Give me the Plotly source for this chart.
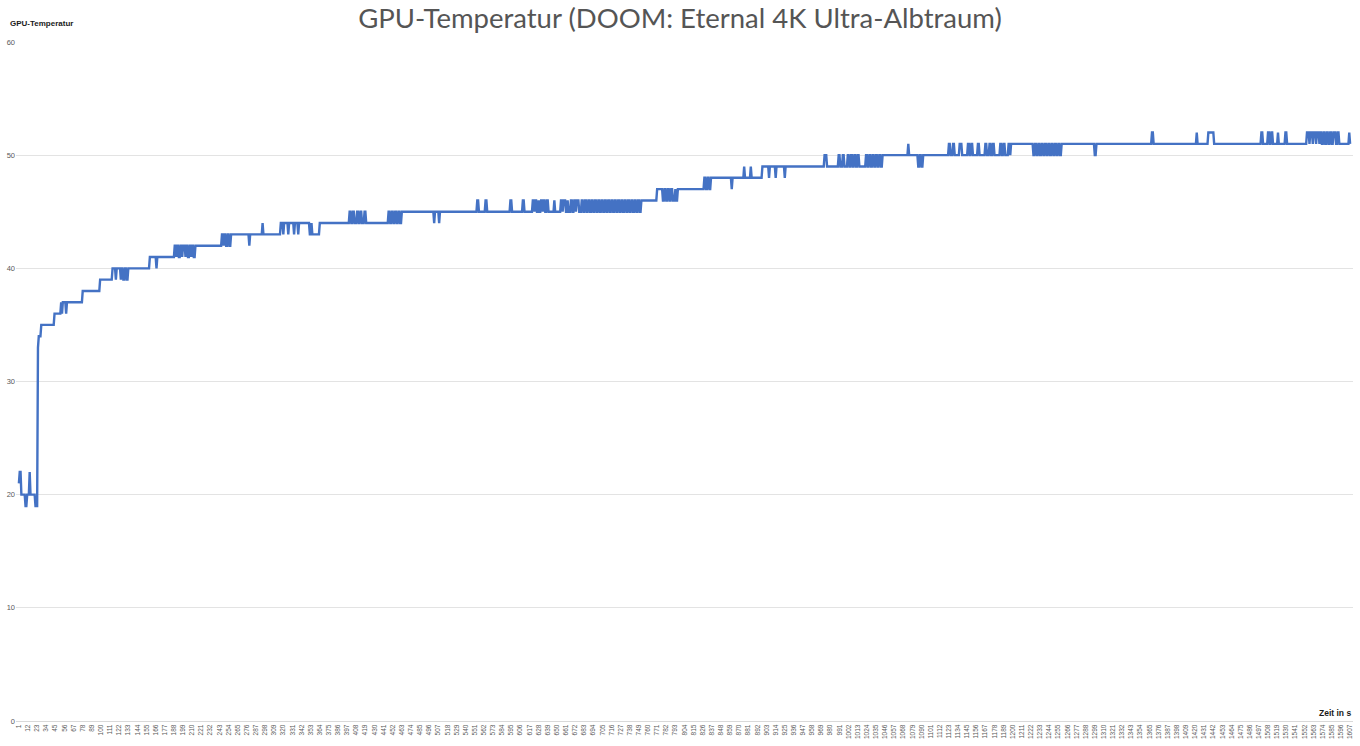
import plotly.graph_objects as go

# Temperature steps: (second at which a new value starts, °C)
phase_warmup = [(1, 21), (2, 22), (4, 20), (9, 19), (11, 20), (14, 22), (15, 20), (21, 19),
                (24, 33), (25, 34), (28, 35), (44, 36), (52, 37), (53, 36), (54, 37),
                (58, 36), (59, 37), (78, 38), (99, 39)]
phase_40_42 = [(114, 40), (118, 39), (119, 40), (124, 39), (125, 40), (127, 39), (129, 40),
               (131, 39), (133, 40), (159, 41), (167, 40), (168, 41),
               (189, 42), (191, 41), (192, 42), (194, 41), (196, 42), (198, 41), (199, 42),
               (202, 41), (203, 42), (205, 41), (207, 42), (209, 41), (210, 42), (212, 41),
               (214, 42)]
phase_43_44 = [(246, 43), (248, 42), (249, 43), (251, 42), (253, 43), (255, 42), (257, 43),
               (279, 42), (280, 43), (295, 44), (296, 43),
               (317, 44), (320, 43), (321, 44), (326, 43), (327, 44), (333, 43), (334, 44),
               (338, 43), (339, 44), (352, 43), (354, 44), (355, 43), (364, 44)]
phase_45_46 = [(400, 45), (402, 44), (404, 45), (406, 44), (409, 45), (411, 44), (413, 45),
               (415, 44), (418, 45), (420, 44),
               (447, 45), (449, 44), (451, 45), (453, 44), (455, 45), (457, 44), (459, 45),
               (461, 44), (463, 45), (502, 44), (503, 45), (508, 44), (509, 45),
               (554, 46), (556, 45), (564, 46), (566, 45), (594, 46), (596, 45), (609, 46),
               (611, 45), (621, 46), (623, 45), (624, 46), (626, 45), (628, 46), (629, 45),
               (631, 46), (633, 45), (634, 46), (636, 45), (638, 46), (640, 45),
               (647, 46), (648, 45),
               (655, 46), (657, 45), (658, 46), (661, 45), (663, 46), (664, 45), (667, 46),
               (669, 45), (671, 46), (673, 45), (674, 46), (677, 45), (680, 46), (682, 45),
               (684, 46), (686, 45), (688, 46), (690, 45), (692, 46), (694, 45), (696, 46),
               (698, 45), (700, 46), (702, 45), (704, 46), (706, 45), (708, 46), (710, 45),
               (712, 46), (714, 45), (716, 46), (718, 45), (720, 46), (722, 45), (724, 46),
               (726, 45), (728, 46), (730, 45), (732, 46), (734, 45), (736, 46), (738, 45),
               (740, 46), (742, 45), (744, 46), (746, 45), (748, 46), (750, 45), (752, 46)]
phase_47_49 = [(771, 47), (778, 46), (780, 47), (782, 46), (784, 47), (786, 46), (788, 47),
               (790, 46), (793, 47), (794, 46), (796, 47),
               (828, 48), (830, 47), (832, 48), (834, 47), (836, 48), (861, 47), (862, 48),
               (876, 49), (877, 48), (884, 49), (885, 48),
               (898, 49), (906, 48), (907, 49), (914, 48), (915, 49), (925, 48), (926, 49)]
phase_50 = [(973, 50), (976, 49), (990, 50), (992, 49), (995, 50), (997, 49),
            (1001, 50), (1003, 49), (1005, 50), (1007, 49), (1009, 50), (1011, 49),
            (1013, 50), (1015, 49), (1023, 50), (1025, 49), (1027, 50), (1029, 49),
            (1031, 50), (1033, 49), (1035, 50), (1037, 49), (1039, 50), (1041, 49),
            (1043, 50), (1074, 51), (1075, 50), (1086, 49), (1088, 50), (1090, 49),
            (1092, 50)]
phase_51_52 = [(1123, 51), (1125, 50), (1128, 51), (1130, 50), (1136, 51), (1139, 50),
               (1146, 51), (1148, 50), (1150, 51), (1152, 50), (1158, 51), (1160, 50),
               (1167, 51), (1169, 50), (1172, 51), (1174, 50), (1176, 51), (1178, 50),
               (1185, 51), (1187, 50), (1189, 51), (1191, 50), (1195, 51), (1197, 50),
               (1198, 51),
               (1225, 50), (1227, 51), (1229, 50), (1231, 51), (1233, 50), (1235, 51),
               (1237, 50), (1239, 51), (1241, 50), (1243, 51), (1245, 50), (1247, 51),
               (1249, 50), (1251, 51), (1253, 50), (1255, 51), (1257, 50), (1259, 51),
               (1299, 50), (1301, 51),
               (1368, 52), (1370, 51), (1422, 52), (1423, 51), (1436, 52), (1443, 51),
               (1500, 52), (1502, 51), (1508, 52), (1510, 51), (1512, 52), (1514, 51),
               (1520, 52), (1521, 51), (1529, 52), (1531, 51),
               (1555, 52), (1558, 51), (1559, 52), (1562, 51), (1563, 52), (1566, 51),
               (1567, 52), (1570, 51), (1571, 52), (1573, 51), (1575, 52), (1577, 51),
               (1579, 52), (1581, 51), (1583, 52), (1585, 51), (1587, 52), (1590, 51),
               (1592, 52), (1594, 51), (1606, 52), (1607, 51)]

n_seconds = 1607
tick_seconds = list(range(1, n_seconds + 1, 11))
y_ticks = [0, 10, 20, 30, 40, 50, 60]

steps = phase_warmup + phase_40_42 + phase_43_44 + phase_45_46 + phase_47_49 + phase_50 + phase_51_52
seconds = list(range(1, n_seconds + 1))
temps = []
j = 0
for s in seconds:
    while j + 1 < len(steps) and steps[j + 1][0] <= s:
        j += 1
    temps.append(steps[j][1])

fig = go.Figure()
fig.add_trace(go.Scatter(x=seconds, y=temps, mode="lines",
                         line=dict(color="#4472C4", width=2.4), hoverinfo="x+y"))

fig.update_layout(
    width=1360, height=746,
    margin=dict(l=14, r=7, t=42, b=24),
    paper_bgcolor="white", plot_bgcolor="white",
    showlegend=False,
    title=dict(text="GPU-Temperatur (DOOM: Eternal 4K Ultra-Albtraum)",
               x=0.5, xanchor="center", y=0.976, yanchor="middle",
               font=dict(family="Lato", size=27.5, color="#555555")),
    font=dict(family="Liberation Sans", color="#595959"),
)
fig.update_xaxes(range=[-2.5, 1610.5], tickmode="array", tickvals=tick_seconds,
                 ticktext=[str(t) for t in tick_seconds], tickangle=-90,
                 tickfont=dict(size=6.5, color="#595959"), showgrid=False,
                 showline=True, linecolor="#d9d9d9", linewidth=1, ticks="", zeroline=False)
fig.update_yaxes(range=[0, 60], tickmode="array", tickvals=y_ticks,
                 tickfont=dict(size=7.5, color="#595959"), showgrid=True,
                 gridcolor="#e3e3e3", gridwidth=1, zeroline=False, ticks="", showline=False)

fig.add_annotation(text="<b>GPU-Temperatur</b>", xref="paper", yref="paper",
                   x=-0.006, y=1.027, xanchor="left", yanchor="middle", showarrow=False,
                   font=dict(family="Liberation Sans", size=8, color="#1a1a1a"))
fig.add_annotation(text="<b>Zeit in s</b>", xref="paper", yref="paper",
                   x=1.0, y=0.012, xanchor="right", yanchor="middle", showarrow=False,
                   font=dict(family="Liberation Sans", size=8.5, color="#1a1a1a"))

fig.write_html("out.html", config={"displayModeBar": False},
               post_script="document.body.style.margin='0px';document.body.style.overflow='hidden';")
